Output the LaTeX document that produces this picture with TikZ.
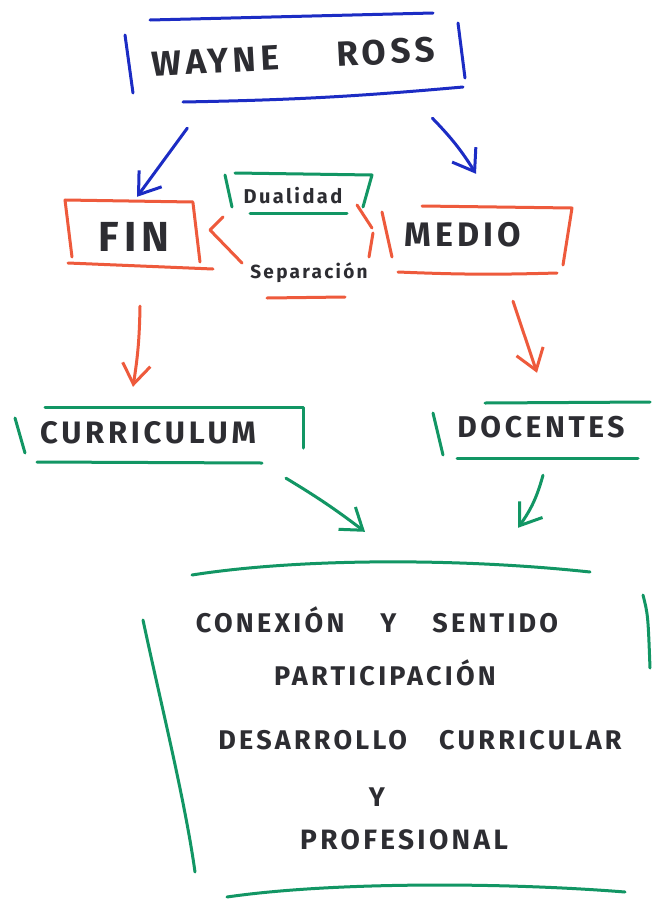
\documentclass[tikz,border=0pt]{standalone}
\usepackage{fontspec}
\setmainfont{Fira Sans}
\newfontfamily\handfont[LetterSpace=12]{Fira Sans}
\usetikzlibrary{arrows.meta}
\definecolor{penblue}{RGB}{28,44,196}
\definecolor{penred}{RGB}{238,90,60}
\definecolor{pengreen}{RGB}{18,150,100}
\definecolor{ink}{RGB}{45,45,50}
\tikzset{
  pen/.style      ={line width=3pt, line cap=round, line join=round},
  bluepen/.style  ={pen, penblue},
  redpen/.style   ={pen, penred},
  greenpen/.style ={pen, pengreen},
  barb/.style     ={-{Straight Barb[length=20pt, width=28pt]}},
  bluearr/.style  ={bluepen, barb},
  redarr/.style   ={redpen, barb},
  greenarr/.style ={greenpen, barb},
  word/.style     ={inner sep=0pt, text=ink},
  big/.style      ={word, font=\handfont\bfseries\fontsize{34}{38}\selectfont},
  mid/.style      ={word, font=\handfont\bfseries\fontsize{31}{34}\selectfont},
  small/.style    ={word, font=\handfont\bfseries\fontsize{20}{24}\selectfont},
  line/.style     ={word, font=\handfont\bfseries\fontsize{27}{30}\selectfont},
}

\begin{document}
\begin{tikzpicture}[x=1pt, y=-1pt]
  \fill[white] (0,0) rectangle (651,900);
  \useasboundingbox (0,0) rectangle (651,900);

  % texts, boxes sized to the sketched frames
  \node[big, font=\handfont\bfseries\fontsize{35}{38}\selectfont, minimum width=338, minimum height=88, rotate=3] (wr) at (293,57) {WAYNE\hspace{58pt}ROSS};
  \node[big, font=\handfont\bfseries\fontsize{42}{46}\selectfont, minimum width=150, minimum height=70] (fin) at (134,237) {FIN};
  \node[big, minimum width=190, minimum height=66] (medio) at (463,235) {MEDIO};
  \node[small] (dual) at (293,196) {Dualidad};
  \node[small, font=\handfont\bfseries\fontsize{19}{22}\selectfont] (sep) at (309,273) {Separación};
  \node[mid, minimum width=290, minimum height=56] (curr) at (148,433) {CURRICULUM};
  \node[mid, font=\handfont\bfseries\fontsize{30}{34}\selectfont, minimum width=210, minimum height=56] (doc) at (541,427) {DOCENTES};
  \node[minimum width=480, minimum height=320] (res) at (395,735) {};
  \node[line] (conexion) at (377,620) {CONEXIÓN\hspace{36pt}Y\hspace{36pt}SENTIDO};
  \node[line] (particip) at (385,673) {PARTICIPACIÓN};
  \node[line] (desarr)   at (420,740) {DESARROLLO\hspace{32pt}CURRICULAR};
  \node[line] (ylet)     at (377,797) {Y};
  \node[line, font=\handfont\bfseries\fontsize{28}{30}\selectfont] (profes) at (404,840) {PROFESIONAL};

  % blue frame
  \draw[bluepen] (150,20) -- (433,13);
  \draw[bluepen] (125,35) -- (133,93);
  \draw[bluepen] (458,23) -- (465,78);
  \draw[bluepen] (183,102) to[bend right=2] (463,87);

  % red frames
  \draw[redpen] (65,200) -- (193,202);
  \draw[redpen] (65,200) -- (72,257);
  \draw[redpen] (193,203) -- (200,262);
  \draw[redpen] (68,263) -- (213,269);
  \draw[redpen] (422,206) -- (572,208) -- (563,265);
  \draw[redpen] (382,212) -- (392,257);
  \draw[redpen] (398,272) to[bend right=2] (557,273);

  % dualidad / separacion
  \draw[greenpen] (235,173) -- (372,175) -- (363,207);
  \draw[greenpen] (225,175) -- (232,207);
  \draw[greenpen] (250,213) -- (347,213);
  \draw[redpen] (223,217) -- (210,230) -- (242,263);
  \draw[redpen] (357,205) -- (372,228);
  \draw[redpen] (373,233) -- (369,257);
  \draw[redpen] (267,298) -- (345,297);

  % green frames
  \draw[greenpen] (45,407) -- (303,407) -- (303,448);
  \draw[greenpen] (15,418) -- (25,453);
  \draw[greenpen] (37,462) -- (262,463);
  \draw[greenpen] (485,403) -- (650,402);
  \draw[greenpen] (433,413) -- (443,455);
  \draw[greenpen] (457,458) -- (638,458);
  \draw[greenpen] (192,575) .. controls (300,558) and (460,558) .. (590,572);
  \draw[greenpen] (143,620) .. controls (160,700) and (185,800) .. (195,872);
  \draw[greenpen] (643,595) .. controls (648,615) .. (650,668);
  \draw[greenpen] (227,897) .. controls (330,882) and (500,882) .. (625,892);

  % arrows
  \draw[bluearr] ([shift={(-108,27)}]wr.south) -- ([shift={(3,-5)}]fin.north);
  \draw[bluearr] ([shift={(137,17)}]wr.south) to[bend left=6] ([shift={(13,-28)}]medio.north);
  \draw[redarr] ([shift={(6,34)}]fin.south) to[bend left=4] ([shift={(-15,-18)}]curr.north);
  \draw[redarr] ([shift={(50,33)}]medio.south) -- ([shift={(-4,-26)}]doc.north);
  \draw[greenarr] ([shift={(138,17)}]curr.south) to[bend left=3] ([shift={(-30,-43)}]res.north);
  \draw[greenarr] ([shift={(2,20)}]doc.south) to[bend left=10] ([shift={(123,-47)}]res.north);
\end{tikzpicture}
\end{document}
